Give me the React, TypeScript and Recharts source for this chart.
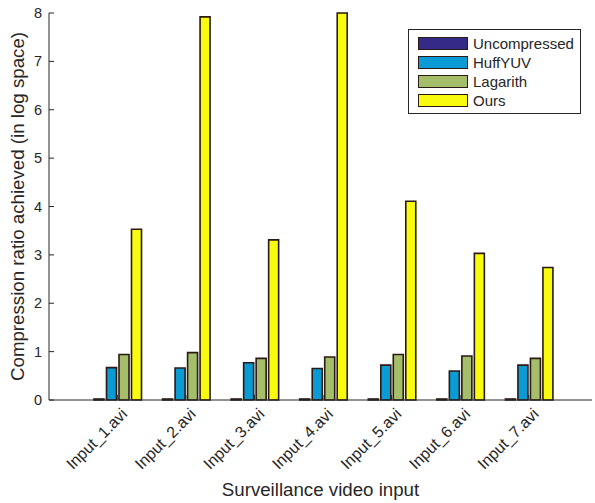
import React from "react"
import { Bar, BarChart, XAxis, YAxis, Legend } from "recharts"

const categories = ["Input_1.avi", "Input_2.avi", "Input_3.avi", "Input_4.avi", "Input_5.avi", "Input_6.avi", "Input_7.avi"]
const uncompressed = [0, 0, 0, 0, 0, 0, 0]
const huffyuv = [0.67, 0.66, 0.77, 0.65, 0.72, 0.6, 0.72]
const lagarith = [0.94, 0.98, 0.86, 0.89, 0.94, 0.91, 0.86]
const ours = [3.53, 7.92, 3.31, 8.0, 4.11, 3.03, 2.74]
const yTicks = [0, 1, 2, 3, 4, 5, 6, 7, 8]

const series = [
  { key: "uncompressed", name: "Uncompressed", color: "#352a87" },
  { key: "huffyuv", name: "HuffYUV", color: "#0a9bd4" },
  { key: "lagarith", name: "Lagarith", color: "#a5be6a" },
  { key: "ours", name: "Ours", color: "#f9fb0e" },
]

const data = categories.map((name, i) => ({
  name,
  uncompressed: uncompressed[i],
  huffyuv: huffyuv[i],
  lagarith: lagarith[i],
  ours: ours[i],
}))

const FONT = "'Liberation Sans', Arial, Helvetica, sans-serif"
const INK = "#262626"
const EDGE = "#2a1a14"
const TICK = 5

function LeftTick(props: any) {
  const { x, y, payload } = props
  const ax = x + 7
  return (
    <g>
      <line x1={ax} x2={ax + TICK} y1={y} y2={y} stroke={INK} />
      <text x={x} y={y} dy={5} textAnchor="end" fontSize={14.5} fill={INK} fontFamily={FONT}>
        {payload.value}
      </text>
    </g>
  )
}

function RightTick(props: any) {
  const { x, y } = props
  return <line x1={x} x2={x - TICK} y1={y} y2={y} stroke={INK} />
}

function BottomTick(props: any) {
  const { x, y, payload } = props
  const tx = x + 11
  const ty = y + 15
  return (
    <g>
      <line x1={x} x2={x} y1={y} y2={y - TICK} stroke={INK} />
      <text
        x={tx}
        y={ty}
        textAnchor="end"
        fontSize={16}
        fill={INK}
        fontFamily={FONT}
        transform={`rotate(-45, ${tx}, ${ty})`}
      >
        {payload.value}
      </text>
    </g>
  )
}

function TopTick(props: any) {
  const { x, y } = props
  return <line x1={x} x2={x} y1={y} y2={y + TICK} stroke={INK} />
}

function LegendBox() {
  return (
    <div
      style={{
        border: `1px solid ${INK}`,
        background: "#fff",
        width: 171,
        height: 79,
        boxSizing: "content-box",
        paddingTop: 4,
        fontFamily: FONT,
      }}
    >
      {series.map((s) => (
        <div key={s.key} style={{ display: "flex", alignItems: "center", height: 19, paddingLeft: 9 }}>
          <div
            style={{
              width: 48,
              height: 11,
              background: s.color,
              border: `1.5px solid ${EDGE}`,
            }}
          />
          <span style={{ marginLeft: 5, fontSize: 15, color: INK }}>{s.name}</span>
        </div>
      ))}
    </div>
  )
}

export default function App() {
  return (
    <div style={{ position: "absolute", left: 0, top: 0, background: "#fff" }}>
      <BarChart
        width={595}
        height={503}
        data={data}
        margin={{ top: 13, right: 3, bottom: 0, left: 0 }}
        barSize={10}
        barGap={2.5}
      >
        <XAxis
          dataKey="name"
          height={103}
          padding={{ left: 34, right: 29 }}
          tickSize={0}
          tickMargin={0}
          tick={<BottomTick />}
          interval={0}
          stroke={INK}
          label={{
            content: ({ viewBox }: any) => (
              <text
                x={viewBox.x + viewBox.width / 2}
                y={viewBox.y + 96}
                textAnchor="middle"
                fontSize={18.7}
                fill={INK}
                fontFamily={FONT}
              >
                Surveillance video input
              </text>
            ),
          }}
        />
        <XAxis
          xAxisId="top"
          dataKey="name"
          orientation="top"
          height={0}
          padding={{ left: 34, right: 29 }}
          tickSize={0}
          tickMargin={0}
          tick={<TopTick />}
          interval={0}
          stroke={INK}
        />
        <YAxis
          width={49}
          domain={[0, 8]}
          ticks={yTicks}
          interval={0}
          tickSize={0}
          tickMargin={7}
          tick={<LeftTick />}
          stroke={INK}
          label={{
            content: ({ viewBox }: any) => {
              const cx = viewBox.x + 24
              const cy = viewBox.y + viewBox.height / 2
              return (
                <text
                  x={cx}
                  y={cy}
                  textAnchor="middle"
                  fontSize={18.7}
                  fill={INK}
                  fontFamily={FONT}
                  transform={`rotate(-90, ${cx}, ${cy})`}
                >
                  Compression ratio achieved (in log space)
                </text>
              )
            },
          }}
        />
        <YAxis
          yAxisId="right"
          orientation="right"
          width={0}
          domain={[0, 8]}
          ticks={yTicks}
          interval={0}
          tickSize={0}
          tickMargin={0}
          tick={<RightTick />}
          stroke={INK}
        />
        <Legend
          layout="vertical"
          align="center"
          verticalAlign="middle"
          content={<LegendBox />}
          wrapperStyle={{ top: 29, left: 408, width: 173, height: 81 }}
        />
        {series.map((s) => (
          <Bar
            key={s.key}
            dataKey={s.key}
            name={s.name}
            fill={s.color}
            stroke={EDGE}
            strokeWidth={1.6}
            minPointSize={s.key === "uncompressed" ? 1 : 0}
            isAnimationActive={false}
          />
        ))}
      </BarChart>
    </div>
  )
}
